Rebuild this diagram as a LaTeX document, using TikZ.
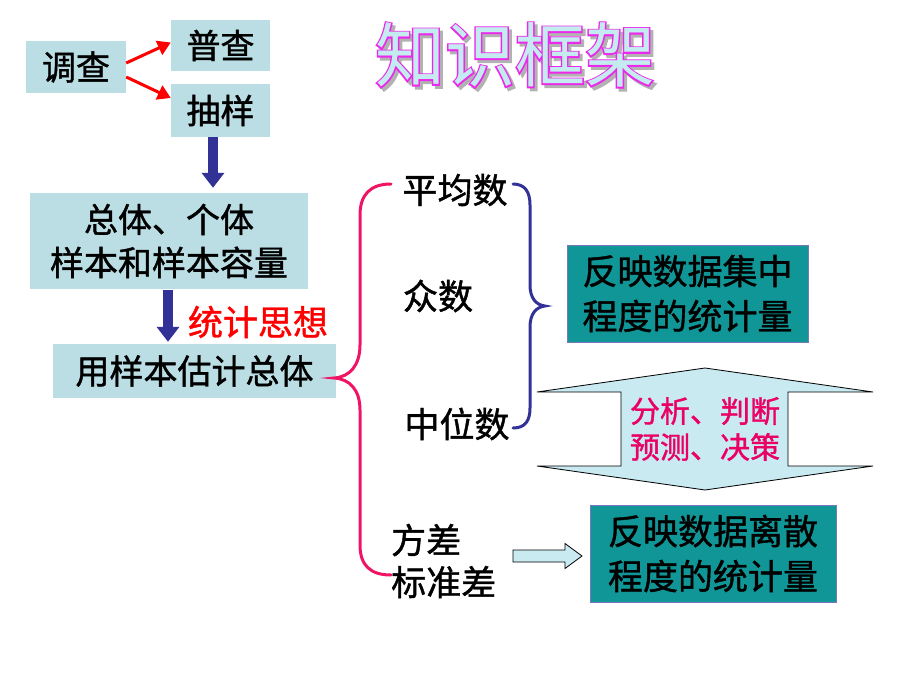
\documentclass[tikz,border=0pt]{standalone}
\usepackage{fontspec}
\setmainfont[FakeBold=1.2]{Noto Sans CJK SC}
\newfontfamily\titleedge[FakeBold=4]{Noto Sans CJK SC}
\newfontfamily\titleface{Noto Sans CJK SC}
\usetikzlibrary{arrows.meta,calc}
\definecolor{boxblue}{RGB}{186,222,228}
\definecolor{tealfill}{RGB}{16,150,150}
\definecolor{tealedge}{RGB}{120,120,190}
\definecolor{navy}{RGB}{50,50,150}
\definecolor{bracepink}{RGB}{240,20,100}
\definecolor{thinkpink}{RGB}{235,0,100}
\definecolor{arrowcyan}{RGB}{200,234,240}
\definecolor{titlecyan}{RGB}{196,236,240}
\definecolor{titlemag}{RGB}{235,40,235}
\tikzset{
  box/.style={fill=boxblue, inner sep=0pt, align=center, font=\fontsize{34}{43}\selectfont},
  tealbox/.style={fill=tealfill, draw=tealedge, line width=0.8pt, inner sep=0pt, align=center, font=\fontsize{35}{45}\selectfont},
  word/.style={inner sep=0pt, font=\fontsize{35}{42}\selectfont},
  redarrow/.style={draw=red, line width=3pt, -{Triangle[length=13pt,width=15pt]}},
  navyarrow/.style={draw=navy, line width=10pt, -{Triangle[length=15pt,width=22pt]}},
  pinkbrace/.style={draw=bracepink, line width=3pt, line cap=round},
  bluebrace/.style={draw=navy, line width=3pt, line cap=round},
  twoway/.style={fill=arrowcyan, draw=black, line width=0.8pt, line join=miter},
  lightarrow/.style={fill=arrowcyan, draw=black, line width=0.8pt}
}
\begin{document}
\begin{tikzpicture}[x=1pt,y=-1pt]
\useasboundingbox (0,0) rectangle (920,690);
% title
\coordinate (ttl) at (515,55);
\node[inner sep=0pt, text=gray!60, font=\titleedge\fontsize{70}{70}\selectfont] (ttlshadow) at ($(ttl)+(3,3)$) {知识框架};
\node[inner sep=0pt, text=titlemag, font=\titleedge\fontsize{70}{70}\selectfont] (ttledge) at (ttl) {知识框架};
\node[inner sep=0pt, text=titlecyan, font=\titleface\fontsize{70}{70}\selectfont] (title) at (ttl) {知识框架};
% left column
\node[box, minimum width=100pt, minimum height=52pt] (diaocha) at (76,67) {调查};
\node[box, minimum width=99pt, minimum height=51pt] (pucha) at (220.5,45.5) {普查};
\node[box, minimum width=99pt, minimum height=53pt] (chouyang) at (220.5,110.5) {抽样};
\node[box, minimum width=278pt, minimum height=96pt] (zongti) at (169,241) {总体、个体\\样本和样本容量};
\node[box, minimum width=283pt, minimum height=54pt] (guji) at (194.5,371) {用样本估计总体};
\node[word, text=red] (sixiang) at (258,322) {统计思想};
\draw[redarrow] ([yshift=4pt]diaocha.east) -- ([yshift=3pt]pucha.west);
\draw[redarrow] ([yshift=-10pt]diaocha.east) -- ([yshift=12.5pt]chouyang.west);
\draw[navyarrow] ($(chouyang.south)+(-7.5,0)$) -- ($(chouyang.south |- zongti.north)+(-7.5,-5)$);
\draw[navyarrow] ($(zongti.south)+(-1,1)$) -- ($(zongti.south |- guji.north)+(-1,-2)$);
% braces
\draw[pinkbrace] (391,184) .. controls (370,184) and (360,195) .. (360,215) -- (360,345)
  .. controls (360,365) and (350,377) .. (334,378)
  .. controls (350,379) and (360,390) .. (360,410) -- (360,545)
  .. controls (360,565) and (370,575) .. (391,575);
\draw[bluebrace] (513,184) .. controls (525,184) and (530,192) .. (530,205) -- (530,285)
  .. controls (530,298) and (536,305) .. (545,306)
  .. controls (536,307) and (530,314) .. (530,327) -- (530,408)
  .. controls (530,421) and (525,428) .. (513,428);
% measures
\node[word] (pingjun) at (455,190) {平均数};
\node[word] (zhongshu) at (438,296) {众数};
\node[word] (zhongwei) at (457,424) {中位数};
\node[word, align=left, anchor=west] (fangcha) at (391,561) {方差\\标准差};
\node[tealbox, minimum width=241pt, minimum height=97pt] (jizhong) at (687.5,293.5) {反映数据集中\\程度的统计量};
\node[tealbox, minimum width=246pt, minimum height=97pt] (lisan) at (713,553.5) {反映数据离散\\程度的统计量};
% up and down arrow
\coordinate (fx) at (705,429);
\draw[twoway, shift={(fx)}] (-168,-37) -- (0,-61) -- (168,-37) -- (83,-37) -- (83,37) -- (168,37)
  -- (0,61) -- (-168,37) -- (-84,37) -- (-84,-37) -- cycle;
\node[inner sep=0pt, align=center, text=thinkpink, font=\fontsize{30}{36}\selectfont] (fenxi) at (fx) {分析、判断\\预测、决策};
% arrow to lisan
\coordinate (fcArrow) at (513,556);
\draw[lightarrow, shift={(fcArrow)}] (0,-6) -- (52,-6) -- (52,-12.5) -- (69,0) -- (52,12.5) -- (52,6) -- (0,6) -- cycle;
\end{tikzpicture}
\end{document}
